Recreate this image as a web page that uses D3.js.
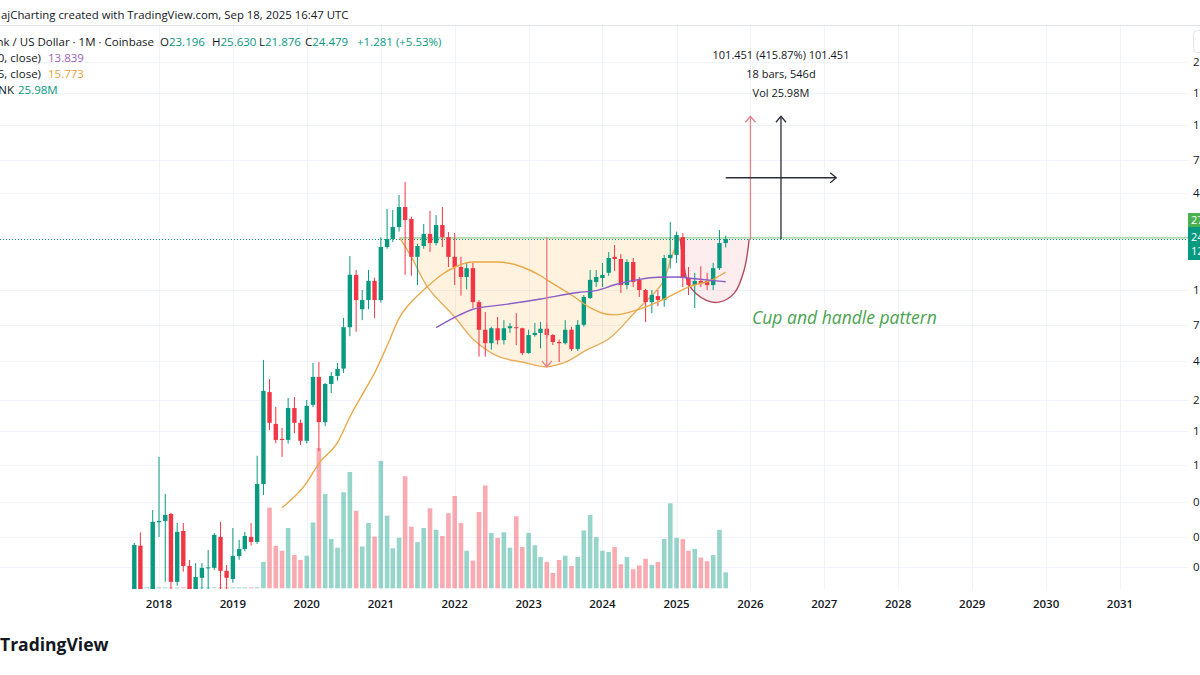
<!DOCTYPE html>
<html>
<head>
<meta charset="utf-8">
<script src="https://cdn.jsdelivr.net/npm/d3@7"></script>
<style>
html, body { margin: 0; padding: 0; background: #fff; }
svg { display: block; font-family: "Open Sans", "DejaVu Sans", sans-serif; }
</style>
</head>
<body>
<svg id="chart" width="1200" height="675"></svg>
<script>
// LINK/USD monthly candles, Sep 2017 .. Sep 2025
const firstMonth = [2017, 8];
const opens  = [0.20,0.41,0.19,0.21,0.56,0.57,0.626,0.253,0.499,0.313,0.22,0.267,0.305,0.305,0.461,0.293,0.263,0.357,0.392,0.461,
  0.431,0.933,3.18,2.08,1.70,1.68,2.57,2.11,1.66,2.68,3.89,2.13,3.54,3.94,4.35,7.55,15.15,9.6,10.85,14.0,
  10.85,22.0,24.48,28.7,37.5,32.0,19.3,22.3,26.2,23.2,29.5,25.1,19.3,16.85,14.75,16.6,10.55,7.3,6.1,7.45,
  6.35,7.45,7.55,7.45,5.35,6.8,7.0,7.4,6.8,6.2,6.1,7.3,5.65,7.8,11.15,13.8,14.55,15.6,19.3,18.75,
  13.25,18.0,14.2,12.4,10.55,11.45,10.85,19.0,19.8,25.1,14.55,13.25,14.0,14.0,13.25,16.6,23.196];
const highs  = [0.425,0.49,0.22,0.66,1.34,0.817,0.635,0.555,0.555,0.339,0.325,0.325,0.387,0.486,0.563,0.317,0.519,0.443,0.493,0.555,
  1.36,4.88,3.78,2.61,1.97,2.94,2.98,2.20,2.86,4.69,4.75,3.60,4.16,4.69,8.55,19.5,16.2,12.4,16.2,14.6,
  25.1,36.5,36.0,44.0,52.3,33.0,23.0,29.9,35.6,33.7,37.5,26.9,26.5,19.3,17.8,17.8,10.85,9.25,7.6,8.65,
  8.3,8.0,9.1,7.5,7.3,8.0,8.1,8.0,6.9,6.4,8.3,7.6,8.3,11.6,16.2,16.2,17.8,20.6,22.6,20.0,
  18.7,19.0,14.75,12.6,12.4,12.4,19.8,30.7,27.0,26.5,16.85,15.6,17.0,15.6,17.8,27.6,25.63];
const lows   = [0.17,0.18,0.15,0.19,0.46,0.253,0.22,0.24,0.29,0.19,0.19,0.20,0.20,0.296,0.20,0.20,0.25,0.34,0.38,0.41,
  0.42,0.806,1.92,1.61,1.34,1.60,1.84,1.57,1.60,2.60,1.45,2.02,3.14,3.70,4.10,6.7,7.1,8.3,9.6,8.55,
  10.5,21.5,23.5,27.0,15.2,15.0,13.25,21.5,20.6,22.5,22.0,16.85,13.25,11.5,12.5,9.75,5.1,5.1,5.6,6.0,
  6.0,7.0,5.95,5.2,5.3,6.65,5.7,6.5,5.95,4.75,6.0,5.5,5.5,7.6,11.0,12.9,12.9,15.0,16.0,11.9,
  12.5,12.9,11.3,8.1,9.1,10.0,9.9,16.5,17.8,12.9,11.6,9.75,12.9,12.4,12.4,16.2,21.876];
const closes = [0.414,0.19,0.21,0.563,0.57,0.618,0.253,0.493,0.313,0.22,0.27,0.305,0.307,0.473,0.293,0.267,0.357,0.392,0.467,0.431,
  0.933,3.23,2.11,1.68,1.68,2.57,2.11,1.66,2.64,3.89,2.13,3.54,3.94,4.33,7.55,15.2,10.85,10.85,14.0,10.85,
  22.0,24.48,28.7,37.5,31.5,19.3,22.3,26.2,23.2,29.5,25.1,19.3,16.85,14.75,16.6,10.55,7.3,6.1,7.45,6.35,
  7.45,7.65,7.45,5.35,6.8,7.0,7.4,6.8,6.2,6.1,7.3,5.65,7.8,11.3,14.2,14.75,15.15,19.0,18.75,13.25,
  18.0,13.8,12.4,10.55,11.6,10.85,19.0,19.8,25.8,14.55,13.25,14.0,13.45,13.25,16.6,23.2,24.479];
// volume in millions (no exchange volume before mid 2019)
const volumes = [1.5,1.5,1.5,1.5,1.5,1.5,1.5,1.5,1.5,1.5,1.5,1.5,1.5,1.5,1.5,1.5,1.5,1.5,1.5,1.5,1.5,
  43,131,69,61,98,54,46,53,107,228,153,80,66,156,189,126,68,106,84,207,118,65,82,182,100,75,98,130,95,
  85,122,150,106,61,45,124,167,90,82,91,66,117,67,90,70,51,43,25,46,53,36,51,94,119,83,61,59,67,39,51,
  31,37,48,38,43,80,138,82,80,61,64,50,44,54,95,25.98];
// last bar change against previous close, as shown in the legend
const lastChange = [1.281, 5.53];

// moving averages (month index, value)
const ma25Idx = [24,28,30,33,35,38,39,41,43,45,47,50,52,55,59,63,66,68,71,74,76,78,82,86,90,94,96];
const ma25Val = [0.68,0.95,1.23,1.62,2.28,3.55,4.1,5.9,8.5,10.6,12.4,15.3,16.8,18.0,18.0,16.85,15.0,13.5,11.6,9.8,9.1,8.9,9.6,11.0,12.9,14.3,15.773];
const ma50Idx = [49,52,55,60,66,72,75,78,82,85,88,91,96];
const ma50Val = [7.5,8.6,9.6,10.2,11.0,12.0,12.3,13.3,14.3,14.7,14.75,14.4,13.839];

// drawn pattern (month index, price)
const rimPrice = 24.85;
const cupIdx   = [43.1,45.0,47.6,52.0,55.2,59.3,63.0,66.9,70.1,73.4,77.1,81.5,85.7,87.2,88.5];
const cupPrice = [24.85,19.3,12.9,8.65,6.35,5.08,4.75,4.45,4.75,5.57,6.5,9.4,13.6,19.3,24.85];
const handleIdx   = [88.6,89.1,90.1,92.8,94.9,97.4,99.0,99.8];
const handlePrice = [24.6,18.0,13.25,10.85,10.55,11.9,16.2,24.4];
const cupArrow = {idx: 67, from: 25.0, to: 4.45};
const target = {start: 24.395, end: 125.846, fromIdx: 96, toIdx: 114, redIdx: 100};

// axes
const years = d3.range(2018, 2032);
const priceTicks = [259, 171.5, 112, 70.2, 45.2, 12.4, 7.81, 4.83, 2.87, 1.88, 1.21, 0.737, 0.463, 0.308];

const green = "#089981", red = "#f23645", ink = "#131722";

const svg = d3.select("#chart");
const W = 1200, plotRight = 1188, plotTop = 26, plotBottom = 589;

const monthDate = i => new Date(Date.UTC(firstMonth[0], firstMonth[1] + i, 1));
const x = d3.scaleUtc()
  .domain([new Date(Date.UTC(2018, 0, 1)), new Date(Date.UTC(2031, 0, 1))])
  .range([159, 1120]);
const xm = i => {
  const f = Math.floor(i), a = x(monthDate(f)), b = x(monthDate(f + 1));
  return a + (i - f) * (b - a);
};
const y = d3.scaleLog().domain([0.2, 200]).range([599.5, 81.5]);
const yVol = d3.scaleLinear().domain([0, 300]).range([588.3, 403.6]);

const candles = opens.map((o, i) => ({i, o, h: highs[i], l: lows[i], c: closes[i], v: volumes[i]}));

svg.append("rect").attr("width", W).attr("height", 675).attr("fill", "#fff");

svg.append("defs").append("clipPath").attr("id", "plot")
  .append("rect").attr("x", 0).attr("y", plotTop).attr("width", plotRight).attr("height", plotBottom - plotTop);

// grid
const grid = svg.append("g").attr("stroke", "#f0f3fa").attr("stroke-width", 1);
grid.selectAll(".gx").data(years).join("line")
  .attr("x1", d => Math.round(x(new Date(Date.UTC(d, 0, 1)))) + 0.5)
  .attr("x2", d => Math.round(x(new Date(Date.UTC(d, 0, 1)))) + 0.5)
  .attr("y1", plotTop).attr("y2", plotBottom);
grid.selectAll(".gy").data(priceTicks).join("line")
  .attr("x1", 0).attr("x2", plotRight)
  .attr("y1", d => Math.round(y(d)) + 0.5).attr("y2", d => Math.round(y(d)) + 0.5);
svg.append("line").attr("x1", 0).attr("x2", W).attr("y1", 25.5).attr("y2", 25.5)
  .attr("stroke", "#e0e3eb");

const plot = svg.append("g").attr("clip-path", "url(#plot)");

// pattern fills
const curve = d3.line().x(d => xm(d[0])).y(d => y(d[1])).curve(d3.curveCatmullRom.alpha(0.5));
const cupPts = cupIdx.map((d, k) => [d, cupPrice[k]]);
const handlePts = handleIdx.map((d, k) => [d, handlePrice[k]]);
plot.append("path").attr("d", curve(cupPts) + "Z").attr("fill", "rgba(255,167,38,0.14)");
plot.append("path").attr("d", curve(handlePts) + "Z").attr("fill", "rgba(242,54,69,0.09)");

// volume
plot.append("g").selectAll("rect").data(candles).join("rect")
  .attr("x", d => xm(d.i) - 2.3).attr("width", 4.6)
  .attr("y", d => yVol(d.v)).attr("height", d => yVol(0) - yVol(d.v))
  .attr("fill", d => d.c >= d.o ? "rgba(8,153,129,0.42)" : "rgba(242,54,69,0.42)");

// rim and last price line
plot.append("line").attr("x1", xm(cupIdx[0])).attr("x2", plotRight)
  .attr("y1", y(rimPrice)).attr("y2", y(rimPrice))
  .attr("stroke", "#8fcf92").attr("stroke-width", 1.2);
plot.append("line").attr("x1", 0).attr("x2", plotRight)
  .attr("y1", y(closes[closes.length - 1]) + 0.5).attr("y2", y(closes[closes.length - 1]) + 0.5)
  .attr("stroke", green).attr("stroke-width", 1).attr("stroke-dasharray", "1 2");

// pattern outlines
plot.append("path").attr("d", curve(cupPts)).attr("fill", "none")
  .attr("stroke", "#e7ad5b").attr("stroke-width", 1.4);
plot.append("path").attr("d", curve(handlePts)).attr("fill", "none")
  .attr("stroke", "#b34a5e").attr("stroke-width", 1.4);

// candles
const cg = plot.append("g").selectAll("g").data(candles).join("g")
  .attr("fill", d => d.c >= d.o ? green : red).attr("stroke", d => d.c >= d.o ? green : red);
cg.append("line")
  .attr("x1", d => xm(d.i)).attr("x2", d => xm(d.i))
  .attr("y1", d => y(d.h)).attr("y2", d => y(d.l)).attr("stroke-width", 1);
cg.append("rect").attr("stroke", "none")
  .attr("x", d => xm(d.i) - 2.2).attr("width", 4.4)
  .attr("y", d => y(Math.max(d.o, d.c)))
  .attr("height", d => Math.max(1, y(Math.min(d.o, d.c)) - y(Math.max(d.o, d.c))));

// moving averages
const maLine = d3.line().x(d => xm(d[0])).y(d => y(d[1])).curve(d3.curveMonotoneX);
plot.append("path").attr("d", maLine(ma25Idx.map((d, k) => [d, ma25Val[k]])))
  .attr("fill", "none").attr("stroke", "#e9a947").attr("stroke-width", 1.4);
plot.append("path").attr("d", maLine(ma50Idx.map((d, k) => [d, ma50Val[k]])))
  .attr("fill", "none").attr("stroke", "#8b5cc4").attr("stroke-width", 1.4);

// arrows
function vArrow(g, xi, p0, p1, color) {
  const xx = xm(xi), y0 = y(p0), y1 = y(p1), dir = y1 < y0 ? 1 : -1;
  g.append("line").attr("x1", xx).attr("x2", xx).attr("y1", y0).attr("y2", y1)
    .attr("stroke", color).attr("stroke-width", 1.3);
  g.append("polyline").attr("points", `${xx - 5},${y1 + 6 * dir} ${xx},${y1} ${xx + 5},${y1 + 6 * dir}`)
    .attr("fill", "none").attr("stroke", color).attr("stroke-width", 1.3);
}
vArrow(plot, cupArrow.idx, cupArrow.from, cupArrow.to, "#ef7c84");
vArrow(plot, target.redIdx, target.start, target.end, "#ea8088");
vArrow(plot, (target.fromIdx + target.toIdx) / 2, target.start, target.end, "#2a2e39");
const midP = Math.sqrt(target.start * target.end);
const hx0 = xm(target.fromIdx), hx1 = xm(target.toIdx), hy = y(midP);
plot.append("line").attr("x1", hx0).attr("x2", hx1).attr("y1", hy).attr("y2", hy)
  .attr("stroke", "#2a2e39").attr("stroke-width", 1.3);
plot.append("polyline").attr("points", `${hx1 - 6},${hy - 5} ${hx1},${hy} ${hx1 - 6},${hy + 5}`)
  .attr("fill", "none").attr("stroke", "#2a2e39").attr("stroke-width", 1.3);

const mid = xm((target.fromIdx + target.toIdx) / 2);
const info = svg.append("g").attr("font-size", 11).attr("fill", ink).attr("text-anchor", "middle");
const diff = target.end - target.start;
info.append("text").attr("x", mid).attr("y", 59)
  .text(`${diff.toFixed(3)} (${(diff / target.start * 100).toFixed(2)}%) ${diff.toFixed(3)}`);
info.append("text").attr("x", mid).attr("y", 78)
  .text(`${target.toIdx - target.fromIdx} bars, 546d`);
info.append("text").attr("x", mid).attr("y", 97).text("Vol 25.98M");

svg.append("text").attr("x", 752).attr("y", 324)
  .attr("font-size", 17.5).attr("font-style", "italic").attr("fill", "#4ba351")
  .text("Cup and handle pattern");

// time axis
svg.append("g").selectAll("text").data(years).join("text")
  .attr("x", d => x(new Date(Date.UTC(d, 0, 1)))).attr("y", 608)
  .attr("text-anchor", "middle").attr("font-size", 11.5).attr("font-weight", 600).attr("fill", ink)
  .text(d => d);

// price axis (labels run past the picture edge, as in the screenshot)
svg.append("g").selectAll("text").data(priceTicks).join("text")
  .attr("x", 1193).attr("y", d => y(d) + 4)
  .attr("font-size", 11.5).attr("fill", ink)
  .text(d => d3.format(".3f")(d));
svg.append("rect").attr("x", 1193.5).attr("y", 30.5).attr("width", 14).attr("height", 22).attr("rx", 4)
  .attr("fill", "#fff").attr("stroke", "#e0e3eb");
svg.append("rect").attr("x", 1188).attr("y", 213).attr("width", 14).attr("height", 14).attr("fill", "#4caf50");
svg.append("rect").attr("x", 1188).attr("y", 227).attr("width", 14).attr("height", 33).attr("fill", green);
svg.append("text").attr("x", 1191).attr("y", 224).attr("font-size", 11).attr("fill", "#fff").text("27.900");
svg.append("text").attr("x", 1191).attr("y", 241).attr("font-size", 11).attr("fill", "#fff").text("24.479");
svg.append("text").attr("x", 1191).attr("y", 255).attr("font-size", 11).attr("fill", "#fff").text("12d 7h");

// header and legend
const hdr = svg.append("g").attr("font-size", 11.5).attr("fill", ink);
hdr.append("text").attr("x", 1).attr("y", 19).attr("font-size", 11.4)
  .text("ajCharting created with TradingView.com, Sep 18, 2025 16:47 UTC");
hdr.append("text").attr("x", 154).attr("y", 46).attr("text-anchor", "end")
  .text("Chainlink / US Dollar · 1M · Coinbase");
const last = candles[candles.length - 1];
const ohlc = [["O", last.o, 160], ["H", last.h, 212], ["L", last.l, 259], ["C", last.c, 305]];
ohlc.forEach(([k, v, px]) => {
  const t = hdr.append("text").attr("x", px).attr("y", 46);
  t.append("tspan").text(k);
  t.append("tspan").attr("fill", green).text(v.toFixed(3));
});
hdr.append("text").attr("x", 357).attr("y", 46).attr("fill", green)
  .text(`+${lastChange[0].toFixed(3)} (+${lastChange[1].toFixed(2)}%)`);
hdr.append("text").attr("x", 41).attr("y", 62).attr("text-anchor", "end").text("MA (50, close)");
hdr.append("text").attr("x", 48).attr("y", 62).attr("fill", "#9c5fc0").text(ma50Val[ma50Val.length - 1].toFixed(3));
hdr.append("text").attr("x", 41).attr("y", 78).attr("text-anchor", "end").text("MA (25, close)");
hdr.append("text").attr("x", 48).attr("y", 78).attr("fill", "#e9a23b").text(ma25Val[ma25Val.length - 1].toFixed(3));
hdr.append("text").attr("x", 14).attr("y", 94).attr("text-anchor", "end").text("Vol · LINK");
hdr.append("text").attr("x", 18).attr("y", 94).attr("fill", green).text(last.v.toFixed(2) + "M");

svg.append("text").attr("x", 0).attr("y", 651)
  .attr("font-size", 17.5).attr("font-weight", 700).attr("fill", ink).text("TradingView");
</script>
</body>
</html>
